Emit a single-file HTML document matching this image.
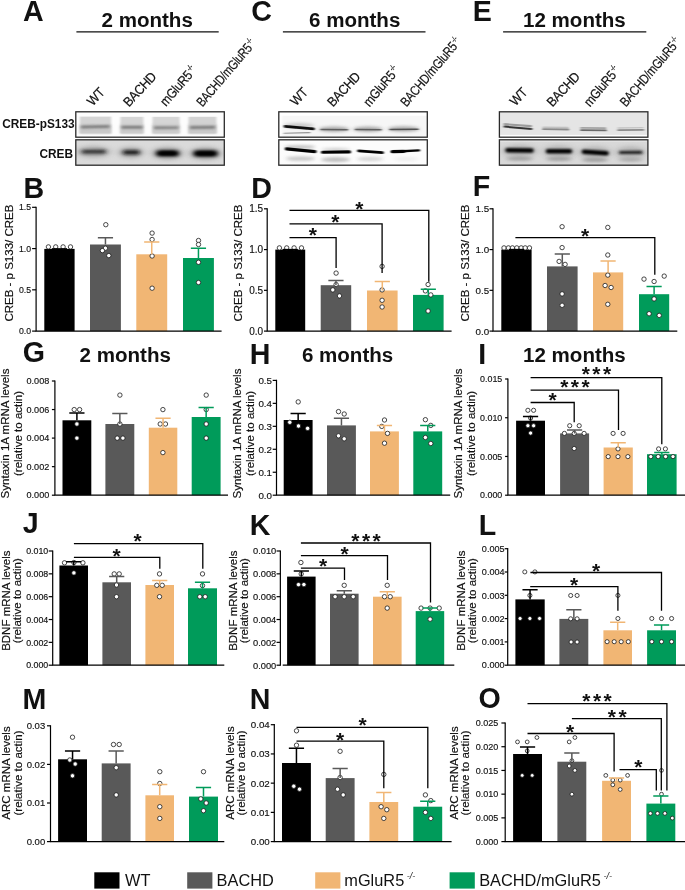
<!DOCTYPE html>
<html lang="en"><head><meta charset="utf-8"><title>Figure</title>
<style>html,body{margin:0;padding:0;background:#fff}svg{display:block}</style></head>
<body>
<svg width="685" height="890" viewBox="0 0 685 890" font-family="Liberation Sans, Arial, sans-serif" fill="#111">
<defs><filter id="b0" filterUnits="userSpaceOnUse" x="70" y="105" width="585" height="65"><feGaussianBlur stdDeviation="0.9 0.6"/></filter><filter id="b1" filterUnits="userSpaceOnUse" x="70" y="105" width="585" height="65"><feGaussianBlur stdDeviation="1.6 0.9"/></filter><filter id="b2" filterUnits="userSpaceOnUse" x="70" y="105" width="585" height="65"><feGaussianBlur stdDeviation="2.2 1.4"/></filter><filter id="b3" filterUnits="userSpaceOnUse" x="70" y="105" width="585" height="65"><feGaussianBlur stdDeviation="3 2"/></filter></defs>
<rect width="685" height="890" fill="#fff"/>
<clipPath id="ca1"><rect x="75.8" y="111.8" width="148.50" height="25.40"/></clipPath>
<rect x="75.8" y="111.8" width="148.50" height="25.40" fill="#fdfdfd"/>
<g clip-path="url(#ca1)">
<rect x="79.8" y="116.6" width="31.40" height="17.00" fill="#d4d4d4" opacity="1" filter="url(#b0)"/>
<rect x="120.4" y="116.8" width="23.00" height="16.80" fill="#d5d5d5" opacity="1" filter="url(#b0)"/>
<rect x="152.5" y="116.8" width="27.10" height="16.80" fill="#d6d6d6" opacity="1" filter="url(#b0)"/>
<rect x="188.5" y="116.8" width="27.90" height="16.80" fill="#d3d3d3" opacity="1" filter="url(#b0)"/>
<rect x="79.8" y="124.5" width="31.40" height="9.10" fill="#c6c6c6" opacity="0.9" filter="url(#b1)"/>
<rect x="120.4" y="124.5" width="23.00" height="9.10" fill="#c8c8c8" opacity="0.9" filter="url(#b1)"/>
<rect x="152.5" y="124.5" width="27.10" height="9.10" fill="#c9c9c9" opacity="0.9" filter="url(#b1)"/>
<rect x="188.5" y="124.5" width="27.90" height="9.10" fill="#c6c6c6" opacity="0.9" filter="url(#b1)"/>
<path d="M82 126.9L108.5 126.6" stroke="#6a6a6a" stroke-width="2.5" stroke-linecap="round" opacity="0.9" filter="url(#b1)" fill="none"/>
<path d="M122.5 127.2L141.5 127.3" stroke="#6a6a6a" stroke-width="2.5" stroke-linecap="round" opacity="0.9" filter="url(#b1)" fill="none"/>
<path d="M155 127.8L177.5 127.6" stroke="#727272" stroke-width="2.4" stroke-linecap="round" opacity="0.9" filter="url(#b1)" fill="none"/>
<path d="M191 127.6L214 127.2" stroke="#6a6a6a" stroke-width="2.5" stroke-linecap="round" opacity="0.9" filter="url(#b1)" fill="none"/>
</g>
<rect x="75.8" y="111.8" width="148.50" height="25.40" fill="none" stroke="#2a2a2a" stroke-width="1.3"/>
<clipPath id="ca2"><rect x="75.8" y="139.8" width="148.50" height="25.40"/></clipPath>
<rect x="75.8" y="139.8" width="148.50" height="25.40" fill="#dadada"/>
<g clip-path="url(#ca2)">
<ellipse cx="93.5" cy="151.8" rx="17" ry="5.5" fill="#8a8a8a" opacity="0.6" filter="url(#b3)"/>
<ellipse cx="131" cy="152.4" rx="13" ry="5.5" fill="#8a8a8a" opacity="0.6" filter="url(#b3)"/>
<ellipse cx="167.5" cy="153.3" rx="15.5" ry="6" fill="#808080" opacity="0.65" filter="url(#b3)"/>
<ellipse cx="205.5" cy="153.4" rx="16" ry="6" fill="#808080" opacity="0.65" filter="url(#b3)"/>
<path d="M83.5 151.8L104 151.6" stroke="#202020" stroke-width="3.6" stroke-linecap="round" opacity="0.95" filter="url(#b2)" fill="none"/>
<path d="M125 152.4L137.5 152.4" stroke="#111" stroke-width="4.2" stroke-linecap="round" opacity="0.95" filter="url(#b2)" fill="none"/>
<path d="M159 153.3L176 153.3" stroke="#000" stroke-width="5.8" stroke-linecap="round" opacity="1" filter="url(#b2)" fill="none"/>
<path d="M196.5 153.4L214.5 153.4" stroke="#000" stroke-width="6" stroke-linecap="round" opacity="1" filter="url(#b2)" fill="none"/>
<path d="M162 153.3L173 153.3" stroke="#000" stroke-width="3.5" stroke-linecap="round" opacity="1" filter="url(#b1)" fill="none"/>
<path d="M199.5 153.4L211.5 153.4" stroke="#000" stroke-width="3.5" stroke-linecap="round" opacity="1" filter="url(#b1)" fill="none"/>
</g>
<rect x="75.8" y="139.8" width="148.50" height="25.40" fill="none" stroke="#2a2a2a" stroke-width="1.3"/>
<clipPath id="cc1"><rect x="278.8" y="111.8" width="148.50" height="25.40"/></clipPath>
<rect x="278.8" y="111.8" width="148.50" height="25.40" fill="#f6f6f6"/>
<g clip-path="url(#cc1)">
<rect x="278" y="111" width="4.00" height="27.00" fill="#fff" opacity="1" filter="url(#b0)"/>
<rect x="278" y="111" width="150.00" height="4.80" fill="#fff" opacity="1" filter="url(#b0)"/>
<ellipse cx="299" cy="125.5" rx="15" ry="2.5" fill="#aaa" opacity="0.6" filter="url(#b2)"/>
<ellipse cx="334" cy="129.2" rx="15" ry="2.8" fill="#999" opacity="0.8" filter="url(#b2)"/>
<ellipse cx="368" cy="129.2" rx="14.5" ry="2.8" fill="#999" opacity="0.8" filter="url(#b2)"/>
<ellipse cx="403.5" cy="129" rx="15.5" ry="2.8" fill="#999" opacity="0.8" filter="url(#b2)"/>
<path d="M285 126.4L313.5 128.9" stroke="#0a0a0a" stroke-width="2.6" stroke-linecap="round" opacity="1" filter="url(#b0)" fill="none"/>
<path d="M284 133.2L310 132.6" stroke="#777" stroke-width="1.1" stroke-linecap="round" opacity="0.8" filter="url(#b0)" fill="none"/>
<path d="M321 129.6L347.5 129.7" stroke="#555" stroke-width="1.5" stroke-linecap="round" opacity="0.9" filter="url(#b0)" fill="none"/>
<path d="M355.5 129.6L381 129.7" stroke="#555" stroke-width="1.5" stroke-linecap="round" opacity="0.9" filter="url(#b0)" fill="none"/>
<path d="M390 129.5L418 129.3" stroke="#444" stroke-width="1.6" stroke-linecap="round" opacity="0.9" filter="url(#b0)" fill="none"/>
</g>
<rect x="278.8" y="111.8" width="148.50" height="25.40" fill="none" stroke="#2a2a2a" stroke-width="1.3"/>
<clipPath id="cc2"><rect x="278.8" y="139.8" width="148.50" height="25.40"/></clipPath>
<rect x="278.8" y="139.8" width="148.50" height="25.40" fill="#fcfcfc"/>
<g clip-path="url(#cc2)">
<ellipse cx="300" cy="147" rx="15" ry="1.6" fill="#888" opacity="0.6" filter="url(#b2)"/>
<ellipse cx="336" cy="149.5" rx="14" ry="1.5" fill="#999" opacity="0.5" filter="url(#b2)"/>
<path d="M286.5 148.9L315 151.7" stroke="#000" stroke-width="3.3" stroke-linecap="round" opacity="1" filter="url(#b0)" fill="none"/>
<path d="M322.5 152.3L349.5 151.9" stroke="#000" stroke-width="3.1" stroke-linecap="round" opacity="1" filter="url(#b0)" fill="none"/>
<path d="M358.5 150.9L382.5 152.7" stroke="#000" stroke-width="2.7" stroke-linecap="round" opacity="1" filter="url(#b0)" fill="none"/>
<path d="M392.5 151.8L419 150.4" stroke="#000" stroke-width="2.4" stroke-linecap="round" opacity="1" filter="url(#b0)" fill="none"/>
<path d="M392.5 151.6L404 151.4" stroke="#000" stroke-width="3.2" stroke-linecap="round" opacity="1" filter="url(#b0)" fill="none"/>
<ellipse cx="300.5" cy="158.6" rx="14.5" ry="2.2" fill="#c2c2c2" opacity="0.95" filter="url(#b2)"/>
<ellipse cx="335.5" cy="159.6" rx="14.5" ry="2.4" fill="#b8b8b8" opacity="0.95" filter="url(#b2)"/>
<ellipse cx="370" cy="159" rx="13" ry="2.2" fill="#d2d2d2" opacity="0.95" filter="url(#b2)"/>
<ellipse cx="406" cy="159" rx="12" ry="1.6" fill="#e8e8e8" opacity="0.9" filter="url(#b2)"/>
</g>
<rect x="278.8" y="139.8" width="148.50" height="25.40" fill="none" stroke="#2a2a2a" stroke-width="1.3"/>
<clipPath id="ce1"><rect x="499.4" y="111.8" width="148.50" height="25.40"/></clipPath>
<rect x="499.4" y="111.8" width="148.50" height="25.40" fill="#e5e5e5"/>
<g clip-path="url(#ce1)">
<rect x="499" y="134.9" width="149.00" height="3.10" fill="#fff" opacity="0.9" filter="url(#b0)"/>
<path d="M504.5 124.2L531 126.2" stroke="#909090" stroke-width="2.2" stroke-linecap="round" opacity="0.85" filter="url(#b0)" fill="none"/>
<path d="M504.5 126.6L531.5 128.9" stroke="#2a2a2a" stroke-width="2.0" stroke-linecap="round" opacity="0.95" filter="url(#b0)" fill="none"/>
<path d="M543 127.2L568 127.5" stroke="#b8b8b8" stroke-width="1.6" stroke-linecap="round" opacity="0.8" filter="url(#b0)" fill="none"/>
<path d="M543 129.2L568.5 129.5" stroke="#808080" stroke-width="1.8" stroke-linecap="round" opacity="0.9" filter="url(#b0)" fill="none"/>
<path d="M581 127.9L605.5 128.1" stroke="#999" stroke-width="1.8" stroke-linecap="round" opacity="0.85" filter="url(#b0)" fill="none"/>
<path d="M581 130.1L606 130.4" stroke="#5c5c5c" stroke-width="1.9" stroke-linecap="round" opacity="0.9" filter="url(#b0)" fill="none"/>
<path d="M618 128L643 127.6" stroke="#bbb" stroke-width="1.4" stroke-linecap="round" opacity="0.8" filter="url(#b0)" fill="none"/>
<path d="M618 130.1L643.5 129.8" stroke="#808080" stroke-width="1.7" stroke-linecap="round" opacity="0.9" filter="url(#b0)" fill="none"/>
</g>
<rect x="499.4" y="111.8" width="148.50" height="25.40" fill="none" stroke="#2a2a2a" stroke-width="1.3"/>
<clipPath id="ce2"><rect x="499.4" y="139.8" width="148.50" height="25.40"/></clipPath>
<rect x="499.4" y="139.8" width="148.50" height="25.40" fill="#d8d8d8"/>
<g clip-path="url(#ce2)">
<rect x="499" y="139" width="149.00" height="2.40" fill="#f4f4f4" opacity="0.9" filter="url(#b0)"/>
<ellipse cx="519.5" cy="151" rx="17" ry="6" fill="#999" opacity="0.6" filter="url(#b3)"/>
<ellipse cx="559" cy="151.5" rx="16" ry="6" fill="#999" opacity="0.6" filter="url(#b3)"/>
<ellipse cx="595" cy="152.5" rx="16" ry="6" fill="#999" opacity="0.6" filter="url(#b3)"/>
<ellipse cx="630.5" cy="152.4" rx="15" ry="6" fill="#999" opacity="0.6" filter="url(#b3)"/>
<path d="M507.5 150.2L531.5 150.5" stroke="#000" stroke-width="4.4" stroke-linecap="round" opacity="1" filter="url(#b1)" fill="none"/>
<path d="M548 151.2L570 151.3" stroke="#000" stroke-width="4.4" stroke-linecap="round" opacity="1" filter="url(#b1)" fill="none"/>
<path d="M584 151.7L606.5 153.3" stroke="#000" stroke-width="4.6" stroke-linecap="round" opacity="1" filter="url(#b1)" fill="none"/>
<path d="M620.5 152.5L641 152.3" stroke="#1a1a1a" stroke-width="3.2" stroke-linecap="round" opacity="0.95" filter="url(#b1)" fill="none"/>
<ellipse cx="519.5" cy="158.6" rx="13.5" ry="2" fill="#9a9a9a" opacity="0.9" filter="url(#b2)"/>
<ellipse cx="559" cy="158.8" rx="13" ry="2" fill="#9a9a9a" opacity="0.9" filter="url(#b2)"/>
<ellipse cx="595" cy="159.8" rx="13" ry="2" fill="#989898" opacity="0.9" filter="url(#b2)"/>
<ellipse cx="630.5" cy="159.6" rx="12" ry="1.8" fill="#a5a5a5" opacity="0.9" filter="url(#b2)"/>
</g>
<rect x="499.4" y="139.8" width="148.50" height="25.40" fill="none" stroke="#2a2a2a" stroke-width="1.3"/>
<text x="74.60" y="128.20" font-size="11.85" font-weight="bold" text-anchor="end" >CREB-pS133</text>
<text x="73.00" y="157.90" font-size="11.85" font-weight="bold" text-anchor="end" >CREB</text>
<text x="23.09" y="21.20" font-size="28.6" font-weight="bold" text-anchor="start" >A</text>
<text x="101.50" y="27.30" font-size="20.55" font-weight="bold" text-anchor="start" >2 months</text>
<path d="M76.4 31.8H218.7" stroke="#111" stroke-width="1.2"/>
<text x="251.18" y="21.20" font-size="28.6" font-weight="bold" text-anchor="start" >C</text>
<text x="309.00" y="27.30" font-size="20.55" font-weight="bold" text-anchor="start" >6 months</text>
<path d="M282.9 31.8H425.5" stroke="#111" stroke-width="1.2"/>
<text x="472.86" y="21.20" font-size="28.6" font-weight="bold" text-anchor="start" >E</text>
<text x="523.00" y="27.30" font-size="20.55" font-weight="bold" text-anchor="start" >12 months</text>
<path d="M503.1 31.8H646.3" stroke="#111" stroke-width="1.2"/>
<text transform="translate(92.80,106.50) rotate(-47) scale(0.9,1)" font-size="13.5" letter-spacing="-0.3" stroke="#111" stroke-width="0.2">WT</text>
<text transform="translate(129.00,107.50) rotate(-47) scale(0.9,1)" font-size="13.5" letter-spacing="-0.3" stroke="#111" stroke-width="0.2">BACHD</text>
<text transform="translate(166.00,107.00) rotate(-49) scale(0.87,1)" font-size="13.5" letter-spacing="-0.3" stroke="#111" stroke-width="0.2">mGluR5<tspan font-size="7.5" dx="1" dy="-5.5">-/-</tspan></text>
<text transform="translate(202.40,107.50) rotate(-49.5) scale(0.8,1)" font-size="13.5" letter-spacing="-0.3" stroke="#111" stroke-width="0.2">BACHD/mGluR5<tspan font-size="7.5" dx="1" dy="-5.5">-/-</tspan></text>
<text transform="translate(296.00,106.50) rotate(-47) scale(0.9,1)" font-size="13.5" letter-spacing="-0.3" stroke="#111" stroke-width="0.2">WT</text>
<text transform="translate(333.00,107.50) rotate(-47) scale(0.9,1)" font-size="13.5" letter-spacing="-0.3" stroke="#111" stroke-width="0.2">BACHD</text>
<text transform="translate(369.50,107.50) rotate(-50) scale(0.87,1)" font-size="13.5" letter-spacing="-0.3" stroke="#111" stroke-width="0.2">mGluR5<tspan font-size="7.5" dx="1" dy="-5.5">-/-</tspan></text>
<text transform="translate(406.50,107.50) rotate(-49.6) scale(0.82,1)" font-size="13.5" letter-spacing="-0.3" stroke="#111" stroke-width="0.2">BACHD/mGluR5<tspan font-size="7.5" dx="1" dy="-5.5">-/-</tspan></text>
<text transform="translate(515.50,106.50) rotate(-47) scale(0.9,1)" font-size="13.5" letter-spacing="-0.3" stroke="#111" stroke-width="0.2">WT</text>
<text transform="translate(552.50,107.50) rotate(-47) scale(0.9,1)" font-size="13.5" letter-spacing="-0.3" stroke="#111" stroke-width="0.2">BACHD</text>
<text transform="translate(590.00,107.50) rotate(-50) scale(0.87,1)" font-size="13.5" letter-spacing="-0.3" stroke="#111" stroke-width="0.2">mGluR5<tspan font-size="7.5" dx="1" dy="-5.5">-/-</tspan></text>
<text transform="translate(626.00,107.50) rotate(-49.6) scale(0.82,1)" font-size="13.5" letter-spacing="-0.3" stroke="#111" stroke-width="0.2">BACHD/mGluR5<tspan font-size="7.5" dx="1" dy="-5.5">-/-</tspan></text>
<rect x="44.30" y="248.90" width="30.30" height="82.20" fill="#000000"/>
<rect x="90.00" y="244.50" width="30.90" height="86.60" fill="#595959"/>
<rect x="136.30" y="254.30" width="30.90" height="76.80" fill="#f1b674"/>
<rect x="183.00" y="258.00" width="30.90" height="73.10" fill="#009b5a"/>
<circle cx="48.40" cy="246.90" r="2.2" fill="#fff" stroke="#1a1a1a" stroke-width="0.8"/>
<circle cx="55.70" cy="246.90" r="2.2" fill="#fff" stroke="#1a1a1a" stroke-width="0.8"/>
<circle cx="63.10" cy="246.90" r="2.2" fill="#fff" stroke="#1a1a1a" stroke-width="0.8"/>
<circle cx="70.50" cy="246.90" r="2.2" fill="#fff" stroke="#1a1a1a" stroke-width="0.8"/>
<circle cx="105.80" cy="224.70" r="2.2" fill="#fff" stroke="#1a1a1a" stroke-width="0.8"/>
<circle cx="105.40" cy="248.20" r="2.2" fill="#fff" stroke="#1a1a1a" stroke-width="0.8"/>
<circle cx="108.80" cy="255.60" r="2.2" fill="#fff" stroke="#1a1a1a" stroke-width="0.8"/>
<circle cx="102.40" cy="250.60" r="2.2" fill="#fff" stroke="#1a1a1a" stroke-width="0.8"/>
<circle cx="152.10" cy="233.10" r="2.2" fill="#fff" stroke="#1a1a1a" stroke-width="0.8"/>
<circle cx="152.10" cy="239.50" r="2.2" fill="#fff" stroke="#1a1a1a" stroke-width="0.8"/>
<circle cx="152.10" cy="256.00" r="2.2" fill="#fff" stroke="#1a1a1a" stroke-width="0.8"/>
<circle cx="152.10" cy="288.20" r="2.2" fill="#fff" stroke="#1a1a1a" stroke-width="0.8"/>
<circle cx="198.50" cy="240.50" r="2.2" fill="#fff" stroke="#1a1a1a" stroke-width="0.8"/>
<circle cx="198.50" cy="244.50" r="2.2" fill="#fff" stroke="#1a1a1a" stroke-width="0.8"/>
<circle cx="198.50" cy="262.30" r="2.2" fill="#fff" stroke="#1a1a1a" stroke-width="0.8"/>
<circle cx="198.50" cy="282.50" r="2.2" fill="#fff" stroke="#1a1a1a" stroke-width="0.8"/>
<path d="M59.45 248.90V248.90M51.85 248.90H67.05" stroke="#000000" stroke-width="1.5" fill="none"/>
<path d="M105.45 244.50V237.80M97.85 237.80H113.05" stroke="#595959" stroke-width="1.5" fill="none"/>
<path d="M151.75 254.30V241.90M144.15 241.90H159.35" stroke="#f1b674" stroke-width="1.5" fill="none"/>
<path d="M198.45 258.00V248.20M190.85 248.20H206.05" stroke="#009b5a" stroke-width="1.5" fill="none"/>
<path d="M36.10 206.70V331.70M35.50 331.10H221.60" stroke="#000" stroke-width="1.2" fill="none"/>
<path d="M32.10 207.30H36.10" stroke="#000" stroke-width="1.2"/>
<text x="31.10" y="210.43" font-size="8.7" font-weight="normal" text-anchor="end" stroke="#111" stroke-width="0.15">1.5</text>
<path d="M32.10 248.57H36.10" stroke="#000" stroke-width="1.2"/>
<text x="31.10" y="251.70" font-size="8.7" font-weight="normal" text-anchor="end" stroke="#111" stroke-width="0.15">1.0</text>
<path d="M32.10 289.83H36.10" stroke="#000" stroke-width="1.2"/>
<text x="31.10" y="292.97" font-size="8.7" font-weight="normal" text-anchor="end" stroke="#111" stroke-width="0.15">0.5</text>
<path d="M32.10 331.10H36.10" stroke="#000" stroke-width="1.2"/>
<text x="31.10" y="334.23" font-size="8.7" font-weight="normal" text-anchor="end" stroke="#111" stroke-width="0.15">0.0</text>
<text transform="translate(12.90,263.10) rotate(-90)" font-size="11.5" text-anchor="middle" stroke="#111" stroke-width="0.18" >CREB - p S133/ CREB</text>
<text x="23.56" y="198.00" font-size="28.6" font-weight="bold" text-anchor="start" >B</text>
<rect x="275.30" y="249.60" width="29.90" height="81.50" fill="#000000"/>
<rect x="320.70" y="285.20" width="30.50" height="45.90" fill="#595959"/>
<rect x="367.00" y="290.50" width="30.60" height="40.60" fill="#f1b674"/>
<rect x="413.00" y="294.90" width="30.60" height="36.20" fill="#009b5a"/>
<circle cx="279.40" cy="247.90" r="2.2" fill="#fff" stroke="#1a1a1a" stroke-width="0.8"/>
<circle cx="286.70" cy="247.90" r="2.2" fill="#fff" stroke="#1a1a1a" stroke-width="0.8"/>
<circle cx="294.10" cy="247.90" r="2.2" fill="#fff" stroke="#1a1a1a" stroke-width="0.8"/>
<circle cx="301.50" cy="247.90" r="2.2" fill="#fff" stroke="#1a1a1a" stroke-width="0.8"/>
<circle cx="336.10" cy="273.10" r="2.2" fill="#fff" stroke="#1a1a1a" stroke-width="0.8"/>
<circle cx="336.10" cy="284.50" r="2.2" fill="#fff" stroke="#1a1a1a" stroke-width="0.8"/>
<circle cx="332.80" cy="289.90" r="2.2" fill="#fff" stroke="#1a1a1a" stroke-width="0.8"/>
<circle cx="339.50" cy="295.90" r="2.2" fill="#fff" stroke="#1a1a1a" stroke-width="0.8"/>
<circle cx="382.10" cy="266.40" r="2.2" fill="#fff" stroke="#1a1a1a" stroke-width="0.8"/>
<circle cx="382.10" cy="289.90" r="2.2" fill="#fff" stroke="#1a1a1a" stroke-width="0.8"/>
<circle cx="382.10" cy="300.30" r="2.2" fill="#fff" stroke="#1a1a1a" stroke-width="0.8"/>
<circle cx="382.10" cy="307.00" r="2.2" fill="#fff" stroke="#1a1a1a" stroke-width="0.8"/>
<circle cx="428.10" cy="284.50" r="2.2" fill="#fff" stroke="#1a1a1a" stroke-width="0.8"/>
<circle cx="425.40" cy="290.90" r="2.2" fill="#fff" stroke="#1a1a1a" stroke-width="0.8"/>
<circle cx="430.80" cy="294.90" r="2.2" fill="#fff" stroke="#1a1a1a" stroke-width="0.8"/>
<circle cx="428.10" cy="311.00" r="2.2" fill="#fff" stroke="#1a1a1a" stroke-width="0.8"/>
<path d="M290.25 249.60V249.60M282.65 249.60H297.85" stroke="#000000" stroke-width="1.5" fill="none"/>
<path d="M335.95 285.20V280.50M328.35 280.50H343.55" stroke="#595959" stroke-width="1.5" fill="none"/>
<path d="M382.30 290.50V281.50M374.70 281.50H389.90" stroke="#f1b674" stroke-width="1.5" fill="none"/>
<path d="M428.30 294.90V289.20M420.70 289.20H435.90" stroke="#009b5a" stroke-width="1.5" fill="none"/>
<path d="M267.20 208.20V331.70M266.60 331.10H451.60" stroke="#000" stroke-width="1.2" fill="none"/>
<path d="M264.00 208.80H267.20" stroke="#000" stroke-width="1.2"/>
<text x="263.20" y="212.40" font-size="10" font-weight="normal" text-anchor="end" stroke="#111" stroke-width="0.15">1.5</text>
<path d="M264.00 249.57H267.20" stroke="#000" stroke-width="1.2"/>
<text x="263.20" y="253.17" font-size="10" font-weight="normal" text-anchor="end" stroke="#111" stroke-width="0.15">1.0</text>
<path d="M264.00 290.33H267.20" stroke="#000" stroke-width="1.2"/>
<text x="263.20" y="293.93" font-size="10" font-weight="normal" text-anchor="end" stroke="#111" stroke-width="0.15">0.5</text>
<path d="M264.00 331.10H267.20" stroke="#000" stroke-width="1.2"/>
<text x="263.20" y="334.70" font-size="10" font-weight="normal" text-anchor="end" stroke="#111" stroke-width="0.15">0.0</text>
<path d="M289.50 237.60H336.10V268.00" stroke="#000" stroke-width="1.3" fill="none"/>
<text x="312.90" y="242.00" font-size="21" font-weight="bold" text-anchor="middle" >*</text>
<path d="M289.50 223.90H382.10V273.00" stroke="#000" stroke-width="1.3" fill="none"/>
<text x="335.40" y="229.00" font-size="21" font-weight="bold" text-anchor="middle" >*</text>
<path d="M289.50 210.30H428.80V281.80" stroke="#000" stroke-width="1.3" fill="none"/>
<text x="359.30" y="215.50" font-size="21" font-weight="bold" text-anchor="middle" >*</text>
<text transform="translate(241.50,263.10) rotate(-90)" font-size="11.5" text-anchor="middle" stroke="#111" stroke-width="0.18" >CREB - p S133/ CREB</text>
<text x="251.16" y="198.00" font-size="28.6" font-weight="bold" text-anchor="start" >D</text>
<rect x="501.30" y="249.60" width="30.30" height="81.50" fill="#000000"/>
<rect x="547.00" y="266.40" width="30.60" height="64.70" fill="#595959"/>
<rect x="593.00" y="272.40" width="30.20" height="58.70" fill="#f1b674"/>
<rect x="639.00" y="294.20" width="30.20" height="36.90" fill="#009b5a"/>
<circle cx="504.00" cy="247.90" r="2.2" fill="#fff" stroke="#1a1a1a" stroke-width="0.8"/>
<circle cx="508.40" cy="247.90" r="2.2" fill="#fff" stroke="#1a1a1a" stroke-width="0.8"/>
<circle cx="512.40" cy="247.90" r="2.2" fill="#fff" stroke="#1a1a1a" stroke-width="0.8"/>
<circle cx="516.80" cy="247.90" r="2.2" fill="#fff" stroke="#1a1a1a" stroke-width="0.8"/>
<circle cx="521.20" cy="247.90" r="2.2" fill="#fff" stroke="#1a1a1a" stroke-width="0.8"/>
<circle cx="525.20" cy="247.90" r="2.2" fill="#fff" stroke="#1a1a1a" stroke-width="0.8"/>
<circle cx="529.50" cy="247.90" r="2.2" fill="#fff" stroke="#1a1a1a" stroke-width="0.8"/>
<circle cx="562.10" cy="226.70" r="2.2" fill="#fff" stroke="#1a1a1a" stroke-width="0.8"/>
<circle cx="562.10" cy="247.60" r="2.2" fill="#fff" stroke="#1a1a1a" stroke-width="0.8"/>
<circle cx="559.10" cy="261.40" r="2.2" fill="#fff" stroke="#1a1a1a" stroke-width="0.8"/>
<circle cx="565.10" cy="264.40" r="2.2" fill="#fff" stroke="#1a1a1a" stroke-width="0.8"/>
<circle cx="562.10" cy="293.90" r="2.2" fill="#fff" stroke="#1a1a1a" stroke-width="0.8"/>
<circle cx="562.10" cy="305.30" r="2.2" fill="#fff" stroke="#1a1a1a" stroke-width="0.8"/>
<circle cx="607.80" cy="227.40" r="2.2" fill="#fff" stroke="#1a1a1a" stroke-width="0.8"/>
<circle cx="607.80" cy="255.00" r="2.2" fill="#fff" stroke="#1a1a1a" stroke-width="0.8"/>
<circle cx="607.80" cy="275.10" r="2.2" fill="#fff" stroke="#1a1a1a" stroke-width="0.8"/>
<circle cx="605.10" cy="285.50" r="2.2" fill="#fff" stroke="#1a1a1a" stroke-width="0.8"/>
<circle cx="611.10" cy="287.50" r="2.2" fill="#fff" stroke="#1a1a1a" stroke-width="0.8"/>
<circle cx="607.80" cy="304.30" r="2.2" fill="#fff" stroke="#1a1a1a" stroke-width="0.8"/>
<circle cx="644.00" cy="279.10" r="2.2" fill="#fff" stroke="#1a1a1a" stroke-width="0.8"/>
<circle cx="654.10" cy="281.50" r="2.2" fill="#fff" stroke="#1a1a1a" stroke-width="0.8"/>
<circle cx="664.20" cy="276.10" r="2.2" fill="#fff" stroke="#1a1a1a" stroke-width="0.8"/>
<circle cx="654.10" cy="298.90" r="2.2" fill="#fff" stroke="#1a1a1a" stroke-width="0.8"/>
<circle cx="649.10" cy="313.70" r="2.2" fill="#fff" stroke="#1a1a1a" stroke-width="0.8"/>
<circle cx="659.20" cy="315.40" r="2.2" fill="#fff" stroke="#1a1a1a" stroke-width="0.8"/>
<path d="M516.45 249.60V249.60M508.85 249.60H524.05" stroke="#000000" stroke-width="1.5" fill="none"/>
<path d="M562.30 266.40V254.00M554.70 254.00H569.90" stroke="#595959" stroke-width="1.5" fill="none"/>
<path d="M608.10 272.40V261.00M600.50 261.00H615.70" stroke="#f1b674" stroke-width="1.5" fill="none"/>
<path d="M654.10 294.20V286.50M646.50 286.50H661.70" stroke="#009b5a" stroke-width="1.5" fill="none"/>
<path d="M493.00 208.20V331.70M492.40 331.10H677.30" stroke="#000" stroke-width="1.2" fill="none"/>
<path d="M489.50 208.80H493.00" stroke="#000" stroke-width="1.2"/>
<text x="489.20" y="212.33" font-size="9.8" font-weight="normal" text-anchor="end" stroke="#111" stroke-width="0.15">1.5</text>
<path d="M489.50 249.57H493.00" stroke="#000" stroke-width="1.2"/>
<text x="489.20" y="253.09" font-size="9.8" font-weight="normal" text-anchor="end" stroke="#111" stroke-width="0.15">1.0</text>
<path d="M489.50 290.33H493.00" stroke="#000" stroke-width="1.2"/>
<text x="489.20" y="293.86" font-size="9.8" font-weight="normal" text-anchor="end" stroke="#111" stroke-width="0.15">0.5</text>
<path d="M489.50 331.10H493.00" stroke="#000" stroke-width="1.2"/>
<text x="489.20" y="334.63" font-size="9.8" font-weight="normal" text-anchor="end" stroke="#111" stroke-width="0.15">0.0</text>
<path d="M515.40 237.60H654.80V274.80" stroke="#000" stroke-width="1.3" fill="none"/>
<text x="585.00" y="242.50" font-size="21" font-weight="bold" text-anchor="middle" >*</text>
<text transform="translate(469.20,263.10) rotate(-90)" font-size="11.5" text-anchor="middle" stroke="#111" stroke-width="0.18" >CREB - p S133/ CREB</text>
<text x="472.86" y="196.10" font-size="28.6" font-weight="bold" text-anchor="start" >F</text>
<rect x="62.50" y="420.30" width="28.80" height="74.90" fill="#000000"/>
<rect x="105.40" y="424.00" width="28.90" height="71.20" fill="#595959"/>
<rect x="148.80" y="427.70" width="28.50" height="67.50" fill="#f1b674"/>
<rect x="191.70" y="417.00" width="28.90" height="78.20" fill="#009b5a"/>
<circle cx="74.20" cy="409.60" r="2.2" fill="#fff" stroke="#1a1a1a" stroke-width="0.8"/>
<circle cx="79.60" cy="409.60" r="2.2" fill="#fff" stroke="#1a1a1a" stroke-width="0.8"/>
<circle cx="76.90" cy="424.00" r="2.2" fill="#fff" stroke="#1a1a1a" stroke-width="0.8"/>
<circle cx="76.90" cy="438.10" r="2.2" fill="#fff" stroke="#1a1a1a" stroke-width="0.8"/>
<circle cx="119.90" cy="395.10" r="2.2" fill="#fff" stroke="#1a1a1a" stroke-width="0.8"/>
<circle cx="119.90" cy="424.00" r="2.2" fill="#fff" stroke="#1a1a1a" stroke-width="0.8"/>
<circle cx="117.20" cy="438.10" r="2.2" fill="#fff" stroke="#1a1a1a" stroke-width="0.8"/>
<circle cx="122.90" cy="438.10" r="2.2" fill="#fff" stroke="#1a1a1a" stroke-width="0.8"/>
<circle cx="162.90" cy="409.60" r="2.2" fill="#fff" stroke="#1a1a1a" stroke-width="0.8"/>
<circle cx="160.20" cy="424.00" r="2.2" fill="#fff" stroke="#1a1a1a" stroke-width="0.8"/>
<circle cx="165.50" cy="424.00" r="2.2" fill="#fff" stroke="#1a1a1a" stroke-width="0.8"/>
<circle cx="162.90" cy="452.60" r="2.2" fill="#fff" stroke="#1a1a1a" stroke-width="0.8"/>
<circle cx="206.20" cy="395.10" r="2.2" fill="#fff" stroke="#1a1a1a" stroke-width="0.8"/>
<circle cx="206.20" cy="409.60" r="2.2" fill="#fff" stroke="#1a1a1a" stroke-width="0.8"/>
<circle cx="206.20" cy="424.00" r="2.2" fill="#fff" stroke="#1a1a1a" stroke-width="0.8"/>
<circle cx="206.20" cy="438.10" r="2.2" fill="#fff" stroke="#1a1a1a" stroke-width="0.8"/>
<path d="M76.90 420.30V412.90M69.30 412.90H84.50" stroke="#000000" stroke-width="1.5" fill="none"/>
<path d="M119.85 424.00V413.60M112.25 413.60H127.45" stroke="#595959" stroke-width="1.5" fill="none"/>
<path d="M163.05 427.70V418.30M155.45 418.30H170.65" stroke="#f1b674" stroke-width="1.5" fill="none"/>
<path d="M206.15 417.00V407.60M198.55 407.60H213.75" stroke="#009b5a" stroke-width="1.5" fill="none"/>
<path d="M54.90 380.40V495.80M54.30 495.20H228.00" stroke="#000" stroke-width="1.2" fill="none"/>
<path d="M51.90 381.00H54.90" stroke="#000" stroke-width="1.2"/>
<text x="49.30" y="384.28" font-size="9.1" font-weight="normal" text-anchor="end" stroke="#111" stroke-width="0.15">0.008</text>
<path d="M51.90 409.55H54.90" stroke="#000" stroke-width="1.2"/>
<text x="49.30" y="412.83" font-size="9.1" font-weight="normal" text-anchor="end" stroke="#111" stroke-width="0.15">0.006</text>
<path d="M51.90 438.10H54.90" stroke="#000" stroke-width="1.2"/>
<text x="49.30" y="441.38" font-size="9.1" font-weight="normal" text-anchor="end" stroke="#111" stroke-width="0.15">0.004</text>
<path d="M51.90 466.65H54.90" stroke="#000" stroke-width="1.2"/>
<text x="49.30" y="469.93" font-size="9.1" font-weight="normal" text-anchor="end" stroke="#111" stroke-width="0.15">0.002</text>
<path d="M51.90 495.20H54.90" stroke="#000" stroke-width="1.2"/>
<text x="49.30" y="498.48" font-size="9.1" font-weight="normal" text-anchor="end" stroke="#111" stroke-width="0.15">0.000</text>
<text transform="translate(9.00,433.50) rotate(-90)" font-size="11.5" text-anchor="middle" stroke="#111" stroke-width="0.18" >Syntaxin 1A mRNA levels</text>
<text transform="translate(22.00,433.50) rotate(-90)" font-size="11.5" text-anchor="middle" stroke="#111" stroke-width="0.18" >(relative to actin)</text>
<text x="22.68" y="362.00" font-size="28.6" font-weight="bold" text-anchor="start" >G</text>
<text x="79.60" y="362.10" font-size="20.55" font-weight="bold" text-anchor="start" >2 months</text>
<rect x="283.70" y="420.00" width="28.90" height="75.20" fill="#000000"/>
<rect x="327.00" y="425.40" width="28.90" height="69.80" fill="#595959"/>
<rect x="370.00" y="431.40" width="28.90" height="63.80" fill="#f1b674"/>
<rect x="413.30" y="431.40" width="28.90" height="63.80" fill="#009b5a"/>
<circle cx="298.20" cy="401.90" r="2.2" fill="#fff" stroke="#1a1a1a" stroke-width="0.8"/>
<circle cx="289.80" cy="422.30" r="2.2" fill="#fff" stroke="#1a1a1a" stroke-width="0.8"/>
<circle cx="298.50" cy="426.00" r="2.2" fill="#fff" stroke="#1a1a1a" stroke-width="0.8"/>
<circle cx="307.60" cy="428.40" r="2.2" fill="#fff" stroke="#1a1a1a" stroke-width="0.8"/>
<circle cx="338.50" cy="411.60" r="2.2" fill="#fff" stroke="#1a1a1a" stroke-width="0.8"/>
<circle cx="344.20" cy="414.00" r="2.2" fill="#fff" stroke="#1a1a1a" stroke-width="0.8"/>
<circle cx="338.50" cy="435.80" r="2.2" fill="#fff" stroke="#1a1a1a" stroke-width="0.8"/>
<circle cx="344.20" cy="438.80" r="2.2" fill="#fff" stroke="#1a1a1a" stroke-width="0.8"/>
<circle cx="384.50" cy="420.00" r="2.2" fill="#fff" stroke="#1a1a1a" stroke-width="0.8"/>
<circle cx="381.80" cy="426.40" r="2.2" fill="#fff" stroke="#1a1a1a" stroke-width="0.8"/>
<circle cx="387.50" cy="433.40" r="2.2" fill="#fff" stroke="#1a1a1a" stroke-width="0.8"/>
<circle cx="384.50" cy="443.20" r="2.2" fill="#fff" stroke="#1a1a1a" stroke-width="0.8"/>
<circle cx="425.40" cy="419.70" r="2.2" fill="#fff" stroke="#1a1a1a" stroke-width="0.8"/>
<circle cx="430.80" cy="425.40" r="2.2" fill="#fff" stroke="#1a1a1a" stroke-width="0.8"/>
<circle cx="425.40" cy="437.50" r="2.2" fill="#fff" stroke="#1a1a1a" stroke-width="0.8"/>
<circle cx="430.80" cy="443.50" r="2.2" fill="#fff" stroke="#1a1a1a" stroke-width="0.8"/>
<path d="M298.15 420.00V413.60M290.55 413.60H305.75" stroke="#000000" stroke-width="1.5" fill="none"/>
<path d="M341.45 425.40V418.30M333.85 418.30H349.05" stroke="#595959" stroke-width="1.5" fill="none"/>
<path d="M384.45 431.40V425.40M376.85 425.40H392.05" stroke="#f1b674" stroke-width="1.5" fill="none"/>
<path d="M427.75 431.40V425.40M420.15 425.40H435.35" stroke="#009b5a" stroke-width="1.5" fill="none"/>
<path d="M276.50 379.80V495.80M275.90 495.20H450.20" stroke="#000" stroke-width="1.2" fill="none"/>
<path d="M272.70 380.40H276.50" stroke="#000" stroke-width="1.2"/>
<text x="272.00" y="383.93" font-size="9.8" font-weight="normal" text-anchor="end" stroke="#111" stroke-width="0.15">0.5</text>
<path d="M272.70 403.36H276.50" stroke="#000" stroke-width="1.2"/>
<text x="272.00" y="406.89" font-size="9.8" font-weight="normal" text-anchor="end" stroke="#111" stroke-width="0.15">0.4</text>
<path d="M272.70 426.32H276.50" stroke="#000" stroke-width="1.2"/>
<text x="272.00" y="429.85" font-size="9.8" font-weight="normal" text-anchor="end" stroke="#111" stroke-width="0.15">0.3</text>
<path d="M272.70 449.28H276.50" stroke="#000" stroke-width="1.2"/>
<text x="272.00" y="452.81" font-size="9.8" font-weight="normal" text-anchor="end" stroke="#111" stroke-width="0.15">0.2</text>
<path d="M272.70 472.24H276.50" stroke="#000" stroke-width="1.2"/>
<text x="272.00" y="475.77" font-size="9.8" font-weight="normal" text-anchor="end" stroke="#111" stroke-width="0.15">0.1</text>
<path d="M272.70 495.20H276.50" stroke="#000" stroke-width="1.2"/>
<text x="272.00" y="498.73" font-size="9.8" font-weight="normal" text-anchor="end" stroke="#111" stroke-width="0.15">0.0</text>
<text transform="translate(240.60,433.50) rotate(-90)" font-size="11.5" text-anchor="middle" stroke="#111" stroke-width="0.18" >Syntaxin 1A mRNA levels</text>
<text transform="translate(253.50,433.50) rotate(-90)" font-size="11.5" text-anchor="middle" stroke="#111" stroke-width="0.18" >(relative to actin)</text>
<text x="249.86" y="364.00" font-size="28.6" font-weight="bold" text-anchor="start" >H</text>
<text x="301.90" y="362.30" font-size="20.55" font-weight="bold" text-anchor="start" >6 months</text>
<rect x="516.10" y="420.70" width="28.90" height="74.50" fill="#000000"/>
<rect x="560.10" y="433.40" width="29.00" height="61.80" fill="#595959"/>
<rect x="603.60" y="447.50" width="29.20" height="47.70" fill="#f1b674"/>
<rect x="647.00" y="454.20" width="29.60" height="41.00" fill="#009b5a"/>
<circle cx="527.90" cy="410.30" r="2.1" fill="#fff" stroke="#1a1a1a" stroke-width="0.8"/>
<circle cx="533.60" cy="410.30" r="2.1" fill="#fff" stroke="#1a1a1a" stroke-width="0.8"/>
<circle cx="530.60" cy="418.00" r="2.1" fill="#fff" stroke="#1a1a1a" stroke-width="0.8"/>
<circle cx="527.90" cy="425.70" r="2.1" fill="#fff" stroke="#1a1a1a" stroke-width="0.8"/>
<circle cx="533.60" cy="425.70" r="2.1" fill="#fff" stroke="#1a1a1a" stroke-width="0.8"/>
<circle cx="530.60" cy="433.10" r="2.1" fill="#fff" stroke="#1a1a1a" stroke-width="0.8"/>
<circle cx="569.70" cy="425.70" r="2.1" fill="#fff" stroke="#1a1a1a" stroke-width="0.8"/>
<circle cx="579.20" cy="425.70" r="2.1" fill="#fff" stroke="#1a1a1a" stroke-width="0.8"/>
<circle cx="564.40" cy="433.40" r="2.1" fill="#fff" stroke="#1a1a1a" stroke-width="0.8"/>
<circle cx="574.20" cy="433.40" r="2.1" fill="#fff" stroke="#1a1a1a" stroke-width="0.8"/>
<circle cx="584.10" cy="433.40" r="2.1" fill="#fff" stroke="#1a1a1a" stroke-width="0.8"/>
<circle cx="574.20" cy="448.50" r="2.1" fill="#fff" stroke="#1a1a1a" stroke-width="0.8"/>
<circle cx="613.10" cy="433.40" r="2.1" fill="#fff" stroke="#1a1a1a" stroke-width="0.8"/>
<circle cx="623.10" cy="433.40" r="2.1" fill="#fff" stroke="#1a1a1a" stroke-width="0.8"/>
<circle cx="618.00" cy="448.90" r="2.1" fill="#fff" stroke="#1a1a1a" stroke-width="0.8"/>
<circle cx="608.20" cy="456.60" r="2.1" fill="#fff" stroke="#1a1a1a" stroke-width="0.8"/>
<circle cx="618.00" cy="456.60" r="2.1" fill="#fff" stroke="#1a1a1a" stroke-width="0.8"/>
<circle cx="627.90" cy="456.60" r="2.1" fill="#fff" stroke="#1a1a1a" stroke-width="0.8"/>
<circle cx="658.60" cy="448.90" r="2.1" fill="#fff" stroke="#1a1a1a" stroke-width="0.8"/>
<circle cx="665.40" cy="448.90" r="2.1" fill="#fff" stroke="#1a1a1a" stroke-width="0.8"/>
<circle cx="650.80" cy="456.60" r="2.1" fill="#fff" stroke="#1a1a1a" stroke-width="0.8"/>
<circle cx="658.20" cy="456.60" r="2.1" fill="#fff" stroke="#1a1a1a" stroke-width="0.8"/>
<circle cx="665.60" cy="456.60" r="2.1" fill="#fff" stroke="#1a1a1a" stroke-width="0.8"/>
<circle cx="673.00" cy="456.60" r="2.1" fill="#fff" stroke="#1a1a1a" stroke-width="0.8"/>
<path d="M530.55 420.70V416.60M522.95 416.60H538.15" stroke="#000000" stroke-width="1.5" fill="none"/>
<path d="M574.60 433.40V430.00M567.00 430.00H582.20" stroke="#595959" stroke-width="1.5" fill="none"/>
<path d="M618.20 447.50V442.80M610.60 442.80H625.80" stroke="#f1b674" stroke-width="1.5" fill="none"/>
<path d="M661.80 454.20V452.50M654.20 452.50H669.40" stroke="#009b5a" stroke-width="1.5" fill="none"/>
<path d="M507.90 378.40V495.80M507.30 495.20H685.00" stroke="#000" stroke-width="1.2" fill="none"/>
<path d="M505.10 379.00H507.90" stroke="#000" stroke-width="1.2"/>
<text x="502.30" y="382.20" font-size="8.9" font-weight="normal" text-anchor="end" stroke="#111" stroke-width="0.15">0.015</text>
<path d="M505.10 417.73H507.90" stroke="#000" stroke-width="1.2"/>
<text x="502.30" y="420.94" font-size="8.9" font-weight="normal" text-anchor="end" stroke="#111" stroke-width="0.15">0.010</text>
<path d="M505.10 456.47H507.90" stroke="#000" stroke-width="1.2"/>
<text x="502.30" y="459.67" font-size="8.9" font-weight="normal" text-anchor="end" stroke="#111" stroke-width="0.15">0.005</text>
<path d="M505.10 495.20H507.90" stroke="#000" stroke-width="1.2"/>
<text x="502.30" y="498.40" font-size="8.9" font-weight="normal" text-anchor="end" stroke="#111" stroke-width="0.15">0.000</text>
<path d="M530.60 402.50H574.20V422.30" stroke="#000" stroke-width="1.3" fill="none"/>
<text x="552.70" y="407.00" font-size="21" font-weight="bold" text-anchor="middle" >*</text>
<path d="M530.60 390.10H618.50V430.00" stroke="#000" stroke-width="1.3" fill="none"/>
<text x="576.15" y="393.50" font-size="21" font-weight="bold" text-anchor="middle" letter-spacing="2.5">***</text>
<path d="M530.60 377.70H661.80V444.20" stroke="#000" stroke-width="1.3" fill="none"/>
<text x="597.65" y="381.00" font-size="21" font-weight="bold" text-anchor="middle" letter-spacing="2.5">***</text>
<text transform="translate(461.50,433.50) rotate(-90)" font-size="11.5" text-anchor="middle" stroke="#111" stroke-width="0.18" >Syntaxin 1A mRNA levels</text>
<text transform="translate(474.70,433.50) rotate(-90)" font-size="11.5" text-anchor="middle" stroke="#111" stroke-width="0.18" >(relative to actin)</text>
<text x="478.16" y="363.70" font-size="28.6" font-weight="bold" text-anchor="start" >I</text>
<text x="523.00" y="362.30" font-size="20.55" font-weight="bold" text-anchor="start" >12 months</text>
<rect x="59.40" y="565.50" width="28.60" height="99.70" fill="#000000"/>
<rect x="102.40" y="582.30" width="28.60" height="82.90" fill="#595959"/>
<rect x="145.40" y="585.00" width="28.60" height="80.20" fill="#f1b674"/>
<rect x="188.00" y="588.30" width="29.00" height="76.90" fill="#009b5a"/>
<circle cx="64.50" cy="562.80" r="2.2" fill="#fff" stroke="#1a1a1a" stroke-width="0.8"/>
<circle cx="73.90" cy="562.50" r="2.2" fill="#fff" stroke="#1a1a1a" stroke-width="0.8"/>
<circle cx="82.90" cy="562.80" r="2.2" fill="#fff" stroke="#1a1a1a" stroke-width="0.8"/>
<circle cx="73.90" cy="572.90" r="2.2" fill="#fff" stroke="#1a1a1a" stroke-width="0.8"/>
<circle cx="114.20" cy="573.90" r="2.2" fill="#fff" stroke="#1a1a1a" stroke-width="0.8"/>
<circle cx="119.20" cy="573.90" r="2.2" fill="#fff" stroke="#1a1a1a" stroke-width="0.8"/>
<circle cx="116.50" cy="585.00" r="2.2" fill="#fff" stroke="#1a1a1a" stroke-width="0.8"/>
<circle cx="116.50" cy="596.70" r="2.2" fill="#fff" stroke="#1a1a1a" stroke-width="0.8"/>
<circle cx="159.50" cy="573.90" r="2.2" fill="#fff" stroke="#1a1a1a" stroke-width="0.8"/>
<circle cx="156.80" cy="585.30" r="2.2" fill="#fff" stroke="#1a1a1a" stroke-width="0.8"/>
<circle cx="162.20" cy="585.30" r="2.2" fill="#fff" stroke="#1a1a1a" stroke-width="0.8"/>
<circle cx="159.50" cy="596.70" r="2.2" fill="#fff" stroke="#1a1a1a" stroke-width="0.8"/>
<circle cx="202.50" cy="573.90" r="2.2" fill="#fff" stroke="#1a1a1a" stroke-width="0.8"/>
<circle cx="202.50" cy="585.60" r="2.2" fill="#fff" stroke="#1a1a1a" stroke-width="0.8"/>
<circle cx="199.80" cy="596.70" r="2.2" fill="#fff" stroke="#1a1a1a" stroke-width="0.8"/>
<circle cx="205.20" cy="596.70" r="2.2" fill="#fff" stroke="#1a1a1a" stroke-width="0.8"/>
<path d="M73.70 565.50V561.80M66.10 561.80H81.30" stroke="#000000" stroke-width="1.5" fill="none"/>
<path d="M116.70 582.30V576.60M109.10 576.60H124.30" stroke="#595959" stroke-width="1.5" fill="none"/>
<path d="M159.70 585.00V580.60M152.10 580.60H167.30" stroke="#f1b674" stroke-width="1.5" fill="none"/>
<path d="M202.50 588.30V582.30M194.90 582.30H210.10" stroke="#009b5a" stroke-width="1.5" fill="none"/>
<path d="M52.70 550.40V665.80M52.10 665.20H224.30" stroke="#000" stroke-width="1.2" fill="none"/>
<path d="M48.70 551.00H52.70" stroke="#000" stroke-width="1.2"/>
<text x="48.30" y="554.19" font-size="8.85" font-weight="normal" text-anchor="end" stroke="#111" stroke-width="0.15">0.010</text>
<path d="M48.70 573.84H52.70" stroke="#000" stroke-width="1.2"/>
<text x="48.30" y="577.03" font-size="8.85" font-weight="normal" text-anchor="end" stroke="#111" stroke-width="0.15">0.008</text>
<path d="M48.70 596.68H52.70" stroke="#000" stroke-width="1.2"/>
<text x="48.30" y="599.87" font-size="8.85" font-weight="normal" text-anchor="end" stroke="#111" stroke-width="0.15">0.006</text>
<path d="M48.70 619.52H52.70" stroke="#000" stroke-width="1.2"/>
<text x="48.30" y="622.71" font-size="8.85" font-weight="normal" text-anchor="end" stroke="#111" stroke-width="0.15">0.004</text>
<path d="M48.70 642.36H52.70" stroke="#000" stroke-width="1.2"/>
<text x="48.30" y="645.55" font-size="8.85" font-weight="normal" text-anchor="end" stroke="#111" stroke-width="0.15">0.002</text>
<path d="M48.70 665.20H52.70" stroke="#000" stroke-width="1.2"/>
<text x="48.30" y="668.39" font-size="8.85" font-weight="normal" text-anchor="end" stroke="#111" stroke-width="0.15">0.000</text>
<path d="M73.90 557.40H159.80V568.80" stroke="#000" stroke-width="1.3" fill="none"/>
<text x="116.50" y="562.50" font-size="21" font-weight="bold" text-anchor="middle" >*</text>
<path d="M73.90 543.70H202.80V568.80" stroke="#000" stroke-width="1.3" fill="none"/>
<text x="137.70" y="548.00" font-size="21" font-weight="bold" text-anchor="middle" >*</text>
<text transform="translate(9.90,600.70) rotate(-90)" font-size="11.5" text-anchor="middle" stroke="#111" stroke-width="0.18" >BDNF mRNA levels</text>
<text transform="translate(21.30,600.70) rotate(-90)" font-size="11.5" text-anchor="middle" stroke="#111" stroke-width="0.18" >(relative to actin)</text>
<text x="22.70" y="532.50" font-size="28.6" font-weight="bold" text-anchor="start" >J</text>
<rect x="287.10" y="576.60" width="28.50" height="88.60" fill="#000000"/>
<rect x="330.00" y="593.70" width="28.60" height="71.50" fill="#595959"/>
<rect x="373.00" y="596.70" width="28.60" height="68.50" fill="#f1b674"/>
<rect x="415.70" y="611.10" width="28.50" height="54.10" fill="#009b5a"/>
<circle cx="300.90" cy="562.50" r="2.2" fill="#fff" stroke="#1a1a1a" stroke-width="0.8"/>
<circle cx="301.20" cy="573.90" r="2.2" fill="#fff" stroke="#1a1a1a" stroke-width="0.8"/>
<circle cx="298.50" cy="584.60" r="2.2" fill="#fff" stroke="#1a1a1a" stroke-width="0.8"/>
<circle cx="303.90" cy="584.60" r="2.2" fill="#fff" stroke="#1a1a1a" stroke-width="0.8"/>
<circle cx="344.20" cy="585.30" r="2.2" fill="#fff" stroke="#1a1a1a" stroke-width="0.8"/>
<circle cx="335.10" cy="596.70" r="2.2" fill="#fff" stroke="#1a1a1a" stroke-width="0.8"/>
<circle cx="344.20" cy="596.70" r="2.2" fill="#fff" stroke="#1a1a1a" stroke-width="0.8"/>
<circle cx="353.20" cy="596.70" r="2.2" fill="#fff" stroke="#1a1a1a" stroke-width="0.8"/>
<circle cx="387.20" cy="585.30" r="2.2" fill="#fff" stroke="#1a1a1a" stroke-width="0.8"/>
<circle cx="384.50" cy="596.70" r="2.2" fill="#fff" stroke="#1a1a1a" stroke-width="0.8"/>
<circle cx="390.20" cy="596.70" r="2.2" fill="#fff" stroke="#1a1a1a" stroke-width="0.8"/>
<circle cx="387.20" cy="608.10" r="2.2" fill="#fff" stroke="#1a1a1a" stroke-width="0.8"/>
<circle cx="421.10" cy="608.10" r="2.2" fill="#fff" stroke="#1a1a1a" stroke-width="0.8"/>
<circle cx="430.10" cy="608.10" r="2.2" fill="#fff" stroke="#1a1a1a" stroke-width="0.8"/>
<circle cx="439.20" cy="608.10" r="2.2" fill="#fff" stroke="#1a1a1a" stroke-width="0.8"/>
<circle cx="430.10" cy="619.20" r="2.2" fill="#fff" stroke="#1a1a1a" stroke-width="0.8"/>
<path d="M301.35 576.60V570.90M293.75 570.90H308.95" stroke="#000000" stroke-width="1.5" fill="none"/>
<path d="M344.30 593.70V590.70M336.70 590.70H351.90" stroke="#595959" stroke-width="1.5" fill="none"/>
<path d="M387.30 596.70V591.70M379.70 591.70H394.90" stroke="#f1b674" stroke-width="1.5" fill="none"/>
<path d="M429.95 611.10V608.10M422.35 608.10H437.55" stroke="#009b5a" stroke-width="1.5" fill="none"/>
<path d="M280.35 550.40V665.80M282.70 665.20H454.30" stroke="#000" stroke-width="1.2" fill="none"/>
<path d="M276.55 551.00H280.35" stroke="#000" stroke-width="1.2"/>
<text x="276.25" y="554.35" font-size="9.3" font-weight="normal" text-anchor="end" stroke="#111" stroke-width="0.15">0.010</text>
<path d="M276.55 573.84H280.35" stroke="#000" stroke-width="1.2"/>
<text x="276.25" y="577.19" font-size="9.3" font-weight="normal" text-anchor="end" stroke="#111" stroke-width="0.15">0.008</text>
<path d="M276.55 596.68H280.35" stroke="#000" stroke-width="1.2"/>
<text x="276.25" y="600.03" font-size="9.3" font-weight="normal" text-anchor="end" stroke="#111" stroke-width="0.15">0.006</text>
<path d="M276.55 619.52H280.35" stroke="#000" stroke-width="1.2"/>
<text x="276.25" y="622.87" font-size="9.3" font-weight="normal" text-anchor="end" stroke="#111" stroke-width="0.15">0.004</text>
<path d="M276.55 642.36H280.35" stroke="#000" stroke-width="1.2"/>
<text x="276.25" y="645.71" font-size="9.3" font-weight="normal" text-anchor="end" stroke="#111" stroke-width="0.15">0.002</text>
<path d="M276.55 665.20H280.35" stroke="#000" stroke-width="1.2"/>
<text x="276.25" y="668.55" font-size="9.3" font-weight="normal" text-anchor="end" stroke="#111" stroke-width="0.15">0.000</text>
<path d="M300.90 568.20H344.50V579.90" stroke="#000" stroke-width="1.3" fill="none"/>
<text x="323.00" y="573.00" font-size="21" font-weight="bold" text-anchor="middle" >*</text>
<path d="M300.90 555.70H387.50V579.90" stroke="#000" stroke-width="1.3" fill="none"/>
<text x="344.50" y="561.00" font-size="21" font-weight="bold" text-anchor="middle" >*</text>
<path d="M300.90 543.00H430.50V602.40" stroke="#000" stroke-width="1.3" fill="none"/>
<text x="367.25" y="548.00" font-size="21" font-weight="bold" text-anchor="middle" letter-spacing="2.5">***</text>
<text transform="translate(237.00,600.70) rotate(-90)" font-size="11.5" text-anchor="middle" stroke="#111" stroke-width="0.18" >BDNF mRNA levels</text>
<text transform="translate(248.30,600.70) rotate(-90)" font-size="11.5" text-anchor="middle" stroke="#111" stroke-width="0.18" >(relative to actin)</text>
<text x="249.86" y="534.80" font-size="28.6" font-weight="bold" text-anchor="start" >K</text>
<rect x="515.40" y="599.40" width="29.30" height="65.80" fill="#000000"/>
<rect x="559.40" y="618.90" width="28.90" height="46.30" fill="#595959"/>
<rect x="603.40" y="630.30" width="28.60" height="34.90" fill="#f1b674"/>
<rect x="647.10" y="630.30" width="28.90" height="34.90" fill="#009b5a"/>
<circle cx="524.80" cy="571.90" r="2.05" fill="#fff" stroke="#1a1a1a" stroke-width="0.8"/>
<circle cx="534.90" cy="571.90" r="2.05" fill="#fff" stroke="#1a1a1a" stroke-width="0.8"/>
<circle cx="529.90" cy="595.40" r="2.05" fill="#fff" stroke="#1a1a1a" stroke-width="0.8"/>
<circle cx="520.10" cy="618.50" r="2.05" fill="#fff" stroke="#1a1a1a" stroke-width="0.8"/>
<circle cx="529.90" cy="618.50" r="2.05" fill="#fff" stroke="#1a1a1a" stroke-width="0.8"/>
<circle cx="539.60" cy="618.50" r="2.05" fill="#fff" stroke="#1a1a1a" stroke-width="0.8"/>
<circle cx="570.70" cy="595.50" r="2.05" fill="#fff" stroke="#1a1a1a" stroke-width="0.8"/>
<circle cx="577.10" cy="595.50" r="2.05" fill="#fff" stroke="#1a1a1a" stroke-width="0.8"/>
<circle cx="570.70" cy="618.80" r="2.05" fill="#fff" stroke="#1a1a1a" stroke-width="0.8"/>
<circle cx="577.10" cy="618.80" r="2.05" fill="#fff" stroke="#1a1a1a" stroke-width="0.8"/>
<circle cx="571.10" cy="642.00" r="2.05" fill="#fff" stroke="#1a1a1a" stroke-width="0.8"/>
<circle cx="577.10" cy="642.00" r="2.05" fill="#fff" stroke="#1a1a1a" stroke-width="0.8"/>
<circle cx="617.90" cy="595.40" r="2.05" fill="#fff" stroke="#1a1a1a" stroke-width="0.8"/>
<circle cx="617.90" cy="618.50" r="2.05" fill="#fff" stroke="#1a1a1a" stroke-width="0.8"/>
<circle cx="607.10" cy="641.70" r="2.05" fill="#fff" stroke="#1a1a1a" stroke-width="0.8"/>
<circle cx="614.20" cy="641.70" r="2.05" fill="#fff" stroke="#1a1a1a" stroke-width="0.8"/>
<circle cx="621.20" cy="641.70" r="2.05" fill="#fff" stroke="#1a1a1a" stroke-width="0.8"/>
<circle cx="628.30" cy="641.70" r="2.05" fill="#fff" stroke="#1a1a1a" stroke-width="0.8"/>
<circle cx="651.80" cy="618.50" r="2.05" fill="#fff" stroke="#1a1a1a" stroke-width="0.8"/>
<circle cx="661.50" cy="618.50" r="2.05" fill="#fff" stroke="#1a1a1a" stroke-width="0.8"/>
<circle cx="671.60" cy="618.50" r="2.05" fill="#fff" stroke="#1a1a1a" stroke-width="0.8"/>
<circle cx="651.80" cy="641.70" r="2.05" fill="#fff" stroke="#1a1a1a" stroke-width="0.8"/>
<circle cx="661.50" cy="641.70" r="2.05" fill="#fff" stroke="#1a1a1a" stroke-width="0.8"/>
<circle cx="671.60" cy="641.70" r="2.05" fill="#fff" stroke="#1a1a1a" stroke-width="0.8"/>
<path d="M530.05 599.40V589.70M522.45 589.70H537.65" stroke="#000000" stroke-width="1.5" fill="none"/>
<path d="M573.85 618.90V609.80M566.25 609.80H581.45" stroke="#595959" stroke-width="1.5" fill="none"/>
<path d="M617.70 630.30V622.20M610.10 622.20H625.30" stroke="#f1b674" stroke-width="1.5" fill="none"/>
<path d="M661.55 630.30V624.90M653.95 624.90H669.15" stroke="#009b5a" stroke-width="1.5" fill="none"/>
<path d="M507.70 548.10V665.80M507.10 665.20H685.00" stroke="#000" stroke-width="1.2" fill="none"/>
<path d="M504.70 548.70H507.70" stroke="#000" stroke-width="1.2"/>
<text x="504.60" y="551.98" font-size="9.1" font-weight="normal" text-anchor="end" stroke="#111" stroke-width="0.15">0.005</text>
<path d="M504.70 572.00H507.70" stroke="#000" stroke-width="1.2"/>
<text x="504.60" y="575.28" font-size="9.1" font-weight="normal" text-anchor="end" stroke="#111" stroke-width="0.15">0.004</text>
<path d="M504.70 595.30H507.70" stroke="#000" stroke-width="1.2"/>
<text x="504.60" y="598.58" font-size="9.1" font-weight="normal" text-anchor="end" stroke="#111" stroke-width="0.15">0.003</text>
<path d="M504.70 618.60H507.70" stroke="#000" stroke-width="1.2"/>
<text x="504.60" y="621.88" font-size="9.1" font-weight="normal" text-anchor="end" stroke="#111" stroke-width="0.15">0.002</text>
<path d="M504.70 641.90H507.70" stroke="#000" stroke-width="1.2"/>
<text x="504.60" y="645.18" font-size="9.1" font-weight="normal" text-anchor="end" stroke="#111" stroke-width="0.15">0.001</text>
<path d="M504.70 665.20H507.70" stroke="#000" stroke-width="1.2"/>
<text x="504.60" y="668.48" font-size="9.1" font-weight="normal" text-anchor="end" stroke="#111" stroke-width="0.15">0.000</text>
<path d="M530.20 586.60H617.90V610.80" stroke="#000" stroke-width="1.3" fill="none"/>
<text x="574.20" y="591.50" font-size="21" font-weight="bold" text-anchor="middle" >*</text>
<path d="M530.40 572.50H661.50V610.80" stroke="#000" stroke-width="1.3" fill="none"/>
<text x="596.00" y="577.50" font-size="21" font-weight="bold" text-anchor="middle" >*</text>
<text transform="translate(464.70,600.70) rotate(-90)" font-size="11.5" text-anchor="middle" stroke="#111" stroke-width="0.18" >BDNF mRNA levels</text>
<text transform="translate(476.20,600.70) rotate(-90)" font-size="11.5" text-anchor="middle" stroke="#111" stroke-width="0.18" >(relative to actin)</text>
<text x="478.66" y="534.80" font-size="28.6" font-weight="bold" text-anchor="start" >L</text>
<rect x="58.10" y="759.30" width="28.90" height="82.30" fill="#000000"/>
<rect x="101.70" y="763.40" width="28.90" height="78.20" fill="#595959"/>
<rect x="145.40" y="795.30" width="28.60" height="46.30" fill="#f1b674"/>
<rect x="189.00" y="796.60" width="29.00" height="45.00" fill="#009b5a"/>
<circle cx="72.50" cy="737.20" r="2.2" fill="#fff" stroke="#1a1a1a" stroke-width="0.8"/>
<circle cx="69.80" cy="760.00" r="2.2" fill="#fff" stroke="#1a1a1a" stroke-width="0.8"/>
<circle cx="75.20" cy="764.00" r="2.2" fill="#fff" stroke="#1a1a1a" stroke-width="0.8"/>
<circle cx="72.50" cy="775.80" r="2.2" fill="#fff" stroke="#1a1a1a" stroke-width="0.8"/>
<circle cx="113.50" cy="744.50" r="2.2" fill="#fff" stroke="#1a1a1a" stroke-width="0.8"/>
<circle cx="119.20" cy="744.50" r="2.2" fill="#fff" stroke="#1a1a1a" stroke-width="0.8"/>
<circle cx="116.20" cy="767.70" r="2.2" fill="#fff" stroke="#1a1a1a" stroke-width="0.8"/>
<circle cx="116.20" cy="794.90" r="2.2" fill="#fff" stroke="#1a1a1a" stroke-width="0.8"/>
<circle cx="159.80" cy="771.70" r="2.2" fill="#fff" stroke="#1a1a1a" stroke-width="0.8"/>
<circle cx="159.80" cy="783.50" r="2.2" fill="#fff" stroke="#1a1a1a" stroke-width="0.8"/>
<circle cx="159.80" cy="806.70" r="2.2" fill="#fff" stroke="#1a1a1a" stroke-width="0.8"/>
<circle cx="159.80" cy="818.40" r="2.2" fill="#fff" stroke="#1a1a1a" stroke-width="0.8"/>
<circle cx="203.50" cy="771.70" r="2.2" fill="#fff" stroke="#1a1a1a" stroke-width="0.8"/>
<circle cx="200.80" cy="798.90" r="2.2" fill="#fff" stroke="#1a1a1a" stroke-width="0.8"/>
<circle cx="206.20" cy="803.00" r="2.2" fill="#fff" stroke="#1a1a1a" stroke-width="0.8"/>
<circle cx="203.50" cy="810.70" r="2.2" fill="#fff" stroke="#1a1a1a" stroke-width="0.8"/>
<path d="M72.55 759.30V750.90M64.95 750.90H80.15" stroke="#000000" stroke-width="1.5" fill="none"/>
<path d="M116.15 763.40V750.90M108.55 750.90H123.75" stroke="#595959" stroke-width="1.5" fill="none"/>
<path d="M159.70 795.30V784.50M152.10 784.50H167.30" stroke="#f1b674" stroke-width="1.5" fill="none"/>
<path d="M203.50 796.60V787.50M195.90 787.50H211.10" stroke="#009b5a" stroke-width="1.5" fill="none"/>
<path d="M50.50 725.20V842.20M49.90 841.60H224.30" stroke="#000" stroke-width="1.2" fill="none"/>
<path d="M47.00 725.80H50.50" stroke="#000" stroke-width="1.2"/>
<text x="45.20" y="729.22" font-size="9.5" font-weight="normal" text-anchor="end" stroke="#111" stroke-width="0.15">0.03</text>
<path d="M47.00 764.40H50.50" stroke="#000" stroke-width="1.2"/>
<text x="45.20" y="767.82" font-size="9.5" font-weight="normal" text-anchor="end" stroke="#111" stroke-width="0.15">0.02</text>
<path d="M47.00 803.00H50.50" stroke="#000" stroke-width="1.2"/>
<text x="45.20" y="806.42" font-size="9.5" font-weight="normal" text-anchor="end" stroke="#111" stroke-width="0.15">0.01</text>
<path d="M47.00 841.60H50.50" stroke="#000" stroke-width="1.2"/>
<text x="45.20" y="845.02" font-size="9.5" font-weight="normal" text-anchor="end" stroke="#111" stroke-width="0.15">0.00</text>
<text transform="translate(9.90,773.00) rotate(-90)" font-size="11.5" text-anchor="middle" stroke="#111" stroke-width="0.18" >ARC mRNA levels</text>
<text transform="translate(22.00,773.00) rotate(-90)" font-size="11.5" text-anchor="middle" stroke="#111" stroke-width="0.18" >(relative to actin)</text>
<text x="22.56" y="708.50" font-size="28.6" font-weight="bold" text-anchor="start" >M</text>
<rect x="282.00" y="763.00" width="28.90" height="78.60" fill="#000000"/>
<rect x="325.70" y="778.10" width="28.90" height="63.50" fill="#595959"/>
<rect x="369.40" y="802.00" width="28.80" height="39.60" fill="#f1b674"/>
<rect x="413.30" y="806.70" width="28.90" height="34.90" fill="#009b5a"/>
<circle cx="296.50" cy="730.80" r="2.2" fill="#fff" stroke="#1a1a1a" stroke-width="0.8"/>
<circle cx="296.50" cy="745.20" r="2.2" fill="#fff" stroke="#1a1a1a" stroke-width="0.8"/>
<circle cx="293.80" cy="786.20" r="2.2" fill="#fff" stroke="#1a1a1a" stroke-width="0.8"/>
<circle cx="299.50" cy="789.20" r="2.2" fill="#fff" stroke="#1a1a1a" stroke-width="0.8"/>
<circle cx="340.10" cy="751.30" r="2.2" fill="#fff" stroke="#1a1a1a" stroke-width="0.8"/>
<circle cx="340.10" cy="777.50" r="2.2" fill="#fff" stroke="#1a1a1a" stroke-width="0.8"/>
<circle cx="337.50" cy="789.20" r="2.2" fill="#fff" stroke="#1a1a1a" stroke-width="0.8"/>
<circle cx="343.20" cy="794.90" r="2.2" fill="#fff" stroke="#1a1a1a" stroke-width="0.8"/>
<circle cx="383.80" cy="774.40" r="2.2" fill="#fff" stroke="#1a1a1a" stroke-width="0.8"/>
<circle cx="381.10" cy="806.70" r="2.2" fill="#fff" stroke="#1a1a1a" stroke-width="0.8"/>
<circle cx="386.80" cy="809.70" r="2.2" fill="#fff" stroke="#1a1a1a" stroke-width="0.8"/>
<circle cx="383.80" cy="818.40" r="2.2" fill="#fff" stroke="#1a1a1a" stroke-width="0.8"/>
<circle cx="425.40" cy="794.90" r="2.2" fill="#fff" stroke="#1a1a1a" stroke-width="0.8"/>
<circle cx="430.80" cy="800.60" r="2.2" fill="#fff" stroke="#1a1a1a" stroke-width="0.8"/>
<circle cx="425.40" cy="812.40" r="2.2" fill="#fff" stroke="#1a1a1a" stroke-width="0.8"/>
<circle cx="430.80" cy="818.40" r="2.2" fill="#fff" stroke="#1a1a1a" stroke-width="0.8"/>
<path d="M296.45 763.00V748.20M288.85 748.20H304.05" stroke="#000000" stroke-width="1.5" fill="none"/>
<path d="M340.15 778.10V768.40M332.55 768.40H347.75" stroke="#595959" stroke-width="1.5" fill="none"/>
<path d="M383.80 802.00V792.60M376.20 792.60H391.40" stroke="#f1b674" stroke-width="1.5" fill="none"/>
<path d="M427.75 806.70V801.30M420.15 801.30H435.35" stroke="#009b5a" stroke-width="1.5" fill="none"/>
<path d="M274.30 724.10V842.20M273.70 841.60H451.60" stroke="#000" stroke-width="1.2" fill="none"/>
<path d="M270.80 724.70H274.30" stroke="#000" stroke-width="1.2"/>
<text x="269.80" y="728.21" font-size="9.75" font-weight="normal" text-anchor="end" stroke="#111" stroke-width="0.15">0.04</text>
<path d="M270.80 753.93H274.30" stroke="#000" stroke-width="1.2"/>
<text x="269.80" y="757.44" font-size="9.75" font-weight="normal" text-anchor="end" stroke="#111" stroke-width="0.15">0.03</text>
<path d="M270.80 783.15H274.30" stroke="#000" stroke-width="1.2"/>
<text x="269.80" y="786.66" font-size="9.75" font-weight="normal" text-anchor="end" stroke="#111" stroke-width="0.15">0.02</text>
<path d="M270.80 812.38H274.30" stroke="#000" stroke-width="1.2"/>
<text x="269.80" y="815.88" font-size="9.75" font-weight="normal" text-anchor="end" stroke="#111" stroke-width="0.15">0.01</text>
<path d="M270.80 841.60H274.30" stroke="#000" stroke-width="1.2"/>
<text x="269.80" y="845.11" font-size="9.75" font-weight="normal" text-anchor="end" stroke="#111" stroke-width="0.15">0.00</text>
<path d="M296.50 741.20H383.80V788.20" stroke="#000" stroke-width="1.3" fill="none"/>
<text x="340.10" y="746.50" font-size="21" font-weight="bold" text-anchor="middle" >*</text>
<path d="M296.50 727.40H427.80V788.20" stroke="#000" stroke-width="1.3" fill="none"/>
<text x="362.60" y="731.50" font-size="21" font-weight="bold" text-anchor="middle" >*</text>
<text transform="translate(234.20,773.00) rotate(-90)" font-size="11.5" text-anchor="middle" stroke="#111" stroke-width="0.18" >ARC mRNA levels</text>
<text transform="translate(245.10,773.00) rotate(-90)" font-size="11.5" text-anchor="middle" stroke="#111" stroke-width="0.18" >(relative to actin)</text>
<text x="249.86" y="708.50" font-size="28.6" font-weight="bold" text-anchor="start" >N</text>
<rect x="513.10" y="754.00" width="28.90" height="87.60" fill="#000000"/>
<rect x="557.40" y="761.70" width="28.90" height="79.90" fill="#595959"/>
<rect x="602.10" y="780.80" width="28.90" height="60.80" fill="#f1b674"/>
<rect x="646.40" y="803.60" width="28.90" height="38.00" fill="#009b5a"/>
<circle cx="517.50" cy="741.90" r="1.9" fill="#fff" stroke="#1a1a1a" stroke-width="0.8"/>
<circle cx="527.20" cy="741.90" r="1.9" fill="#fff" stroke="#1a1a1a" stroke-width="0.8"/>
<circle cx="536.90" cy="737.50" r="1.9" fill="#fff" stroke="#1a1a1a" stroke-width="0.8"/>
<circle cx="527.20" cy="750.90" r="1.9" fill="#fff" stroke="#1a1a1a" stroke-width="0.8"/>
<circle cx="522.20" cy="775.40" r="1.9" fill="#fff" stroke="#1a1a1a" stroke-width="0.8"/>
<circle cx="532.20" cy="775.40" r="1.9" fill="#fff" stroke="#1a1a1a" stroke-width="0.8"/>
<circle cx="569.20" cy="741.90" r="1.9" fill="#fff" stroke="#1a1a1a" stroke-width="0.8"/>
<circle cx="574.90" cy="737.50" r="1.9" fill="#fff" stroke="#1a1a1a" stroke-width="0.8"/>
<circle cx="571.90" cy="760.70" r="1.9" fill="#fff" stroke="#1a1a1a" stroke-width="0.8"/>
<circle cx="569.20" cy="766.00" r="1.9" fill="#fff" stroke="#1a1a1a" stroke-width="0.8"/>
<circle cx="574.90" cy="770.40" r="1.9" fill="#fff" stroke="#1a1a1a" stroke-width="0.8"/>
<circle cx="571.90" cy="794.20" r="1.9" fill="#fff" stroke="#1a1a1a" stroke-width="0.8"/>
<circle cx="605.80" cy="775.40" r="1.9" fill="#fff" stroke="#1a1a1a" stroke-width="0.8"/>
<circle cx="627.60" cy="775.40" r="1.9" fill="#fff" stroke="#1a1a1a" stroke-width="0.8"/>
<circle cx="612.80" cy="780.10" r="1.9" fill="#fff" stroke="#1a1a1a" stroke-width="0.8"/>
<circle cx="620.20" cy="780.10" r="1.9" fill="#fff" stroke="#1a1a1a" stroke-width="0.8"/>
<circle cx="612.80" cy="784.80" r="1.9" fill="#fff" stroke="#1a1a1a" stroke-width="0.8"/>
<circle cx="620.20" cy="789.50" r="1.9" fill="#fff" stroke="#1a1a1a" stroke-width="0.8"/>
<circle cx="661.50" cy="770.40" r="1.9" fill="#fff" stroke="#1a1a1a" stroke-width="0.8"/>
<circle cx="661.50" cy="794.20" r="1.9" fill="#fff" stroke="#1a1a1a" stroke-width="0.8"/>
<circle cx="650.40" cy="813.40" r="1.9" fill="#fff" stroke="#1a1a1a" stroke-width="0.8"/>
<circle cx="657.50" cy="813.40" r="1.9" fill="#fff" stroke="#1a1a1a" stroke-width="0.8"/>
<circle cx="664.90" cy="813.40" r="1.9" fill="#fff" stroke="#1a1a1a" stroke-width="0.8"/>
<circle cx="672.30" cy="818.10" r="1.9" fill="#fff" stroke="#1a1a1a" stroke-width="0.8"/>
<path d="M527.55 754.00V746.90M519.95 746.90H535.15" stroke="#000000" stroke-width="1.5" fill="none"/>
<path d="M571.85 761.70V752.90M564.25 752.90H579.45" stroke="#595959" stroke-width="1.5" fill="none"/>
<path d="M616.55 780.80V778.10M608.95 778.10H624.15" stroke="#f1b674" stroke-width="1.5" fill="none"/>
<path d="M660.85 803.60V795.90M653.25 795.90H668.45" stroke="#009b5a" stroke-width="1.5" fill="none"/>
<path d="M505.20 722.40V842.20M504.60 841.60H685.00" stroke="#000" stroke-width="1.2" fill="none"/>
<path d="M501.40 723.00H505.20" stroke="#000" stroke-width="1.2"/>
<text x="498.20" y="726.24" font-size="9.0" font-weight="normal" text-anchor="end" stroke="#111" stroke-width="0.15">0.025</text>
<path d="M501.40 746.72H505.20" stroke="#000" stroke-width="1.2"/>
<text x="498.20" y="749.96" font-size="9.0" font-weight="normal" text-anchor="end" stroke="#111" stroke-width="0.15">0.020</text>
<path d="M501.40 770.44H505.20" stroke="#000" stroke-width="1.2"/>
<text x="498.20" y="773.68" font-size="9.0" font-weight="normal" text-anchor="end" stroke="#111" stroke-width="0.15">0.015</text>
<path d="M501.40 794.16H505.20" stroke="#000" stroke-width="1.2"/>
<text x="498.20" y="797.40" font-size="9.0" font-weight="normal" text-anchor="end" stroke="#111" stroke-width="0.15">0.010</text>
<path d="M501.40 817.88H505.20" stroke="#000" stroke-width="1.2"/>
<text x="498.20" y="821.12" font-size="9.0" font-weight="normal" text-anchor="end" stroke="#111" stroke-width="0.15">0.005</text>
<path d="M501.40 841.60H505.20" stroke="#000" stroke-width="1.2"/>
<text x="498.20" y="844.84" font-size="9.0" font-weight="normal" text-anchor="end" stroke="#111" stroke-width="0.15">0.000</text>
<path d="M527.50 733.50H614.10V771.50" stroke="#000" stroke-width="1.3" fill="none"/>
<text x="570.20" y="738.50" font-size="21" font-weight="bold" text-anchor="middle" >*</text>
<path d="M571.90 718.70H661.30V790.50" stroke="#000" stroke-width="1.3" fill="none"/>
<text x="618.45" y="723.50" font-size="21" font-weight="bold" text-anchor="middle" letter-spacing="2.5">**</text>
<path d="M527.50 703.60H666.90V790.50" stroke="#000" stroke-width="1.3" fill="none"/>
<text x="598.25" y="707.80" font-size="21" font-weight="bold" text-anchor="middle" letter-spacing="2.5">***</text>
<path d="M619.50 769.70H656.30V790.50" stroke="#000" stroke-width="1.3" fill="none"/>
<text x="638.30" y="773.80" font-size="21" font-weight="bold" text-anchor="middle" >*</text>
<text transform="translate(458.10,773.00) rotate(-90)" font-size="11.5" text-anchor="middle" stroke="#111" stroke-width="0.18" >ARC mRNA levels</text>
<text transform="translate(468.80,773.00) rotate(-90)" font-size="11.5" text-anchor="middle" stroke="#111" stroke-width="0.18" >(relative to actin)</text>
<text x="478.58" y="708.30" font-size="28.6" font-weight="bold" text-anchor="start" >O</text>
<rect x="94.3" y="872.3" width="25.2" height="16.3" fill="#000000"/>
<text x="125.00" y="885.80" font-size="16.35" font-weight="normal" text-anchor="start" >WT</text>
<rect x="187.2" y="872.3" width="25.2" height="16.3" fill="#595959"/>
<text x="216.60" y="885.80" font-size="16.35" font-weight="normal" text-anchor="start" >BACHD</text>
<rect x="315.2" y="872.3" width="25.2" height="16.3" fill="#f1b674"/>
<text x="344.30" y="885.80" font-size="16.35" font-weight="normal" text-anchor="start" >mGluR5<tspan font-size="9" dx="2.5" dy="-6.5" font-style="italic">-/-</tspan></text>
<rect x="449.6" y="872.3" width="25.2" height="16.3" fill="#009b5a"/>
<text x="479.20" y="885.80" font-size="16.35" font-weight="normal" text-anchor="start" >BACHD/mGluR5<tspan font-size="9" dx="2.5" dy="-6.5" font-style="italic">-/-</tspan></text>
</svg>
</body></html>
